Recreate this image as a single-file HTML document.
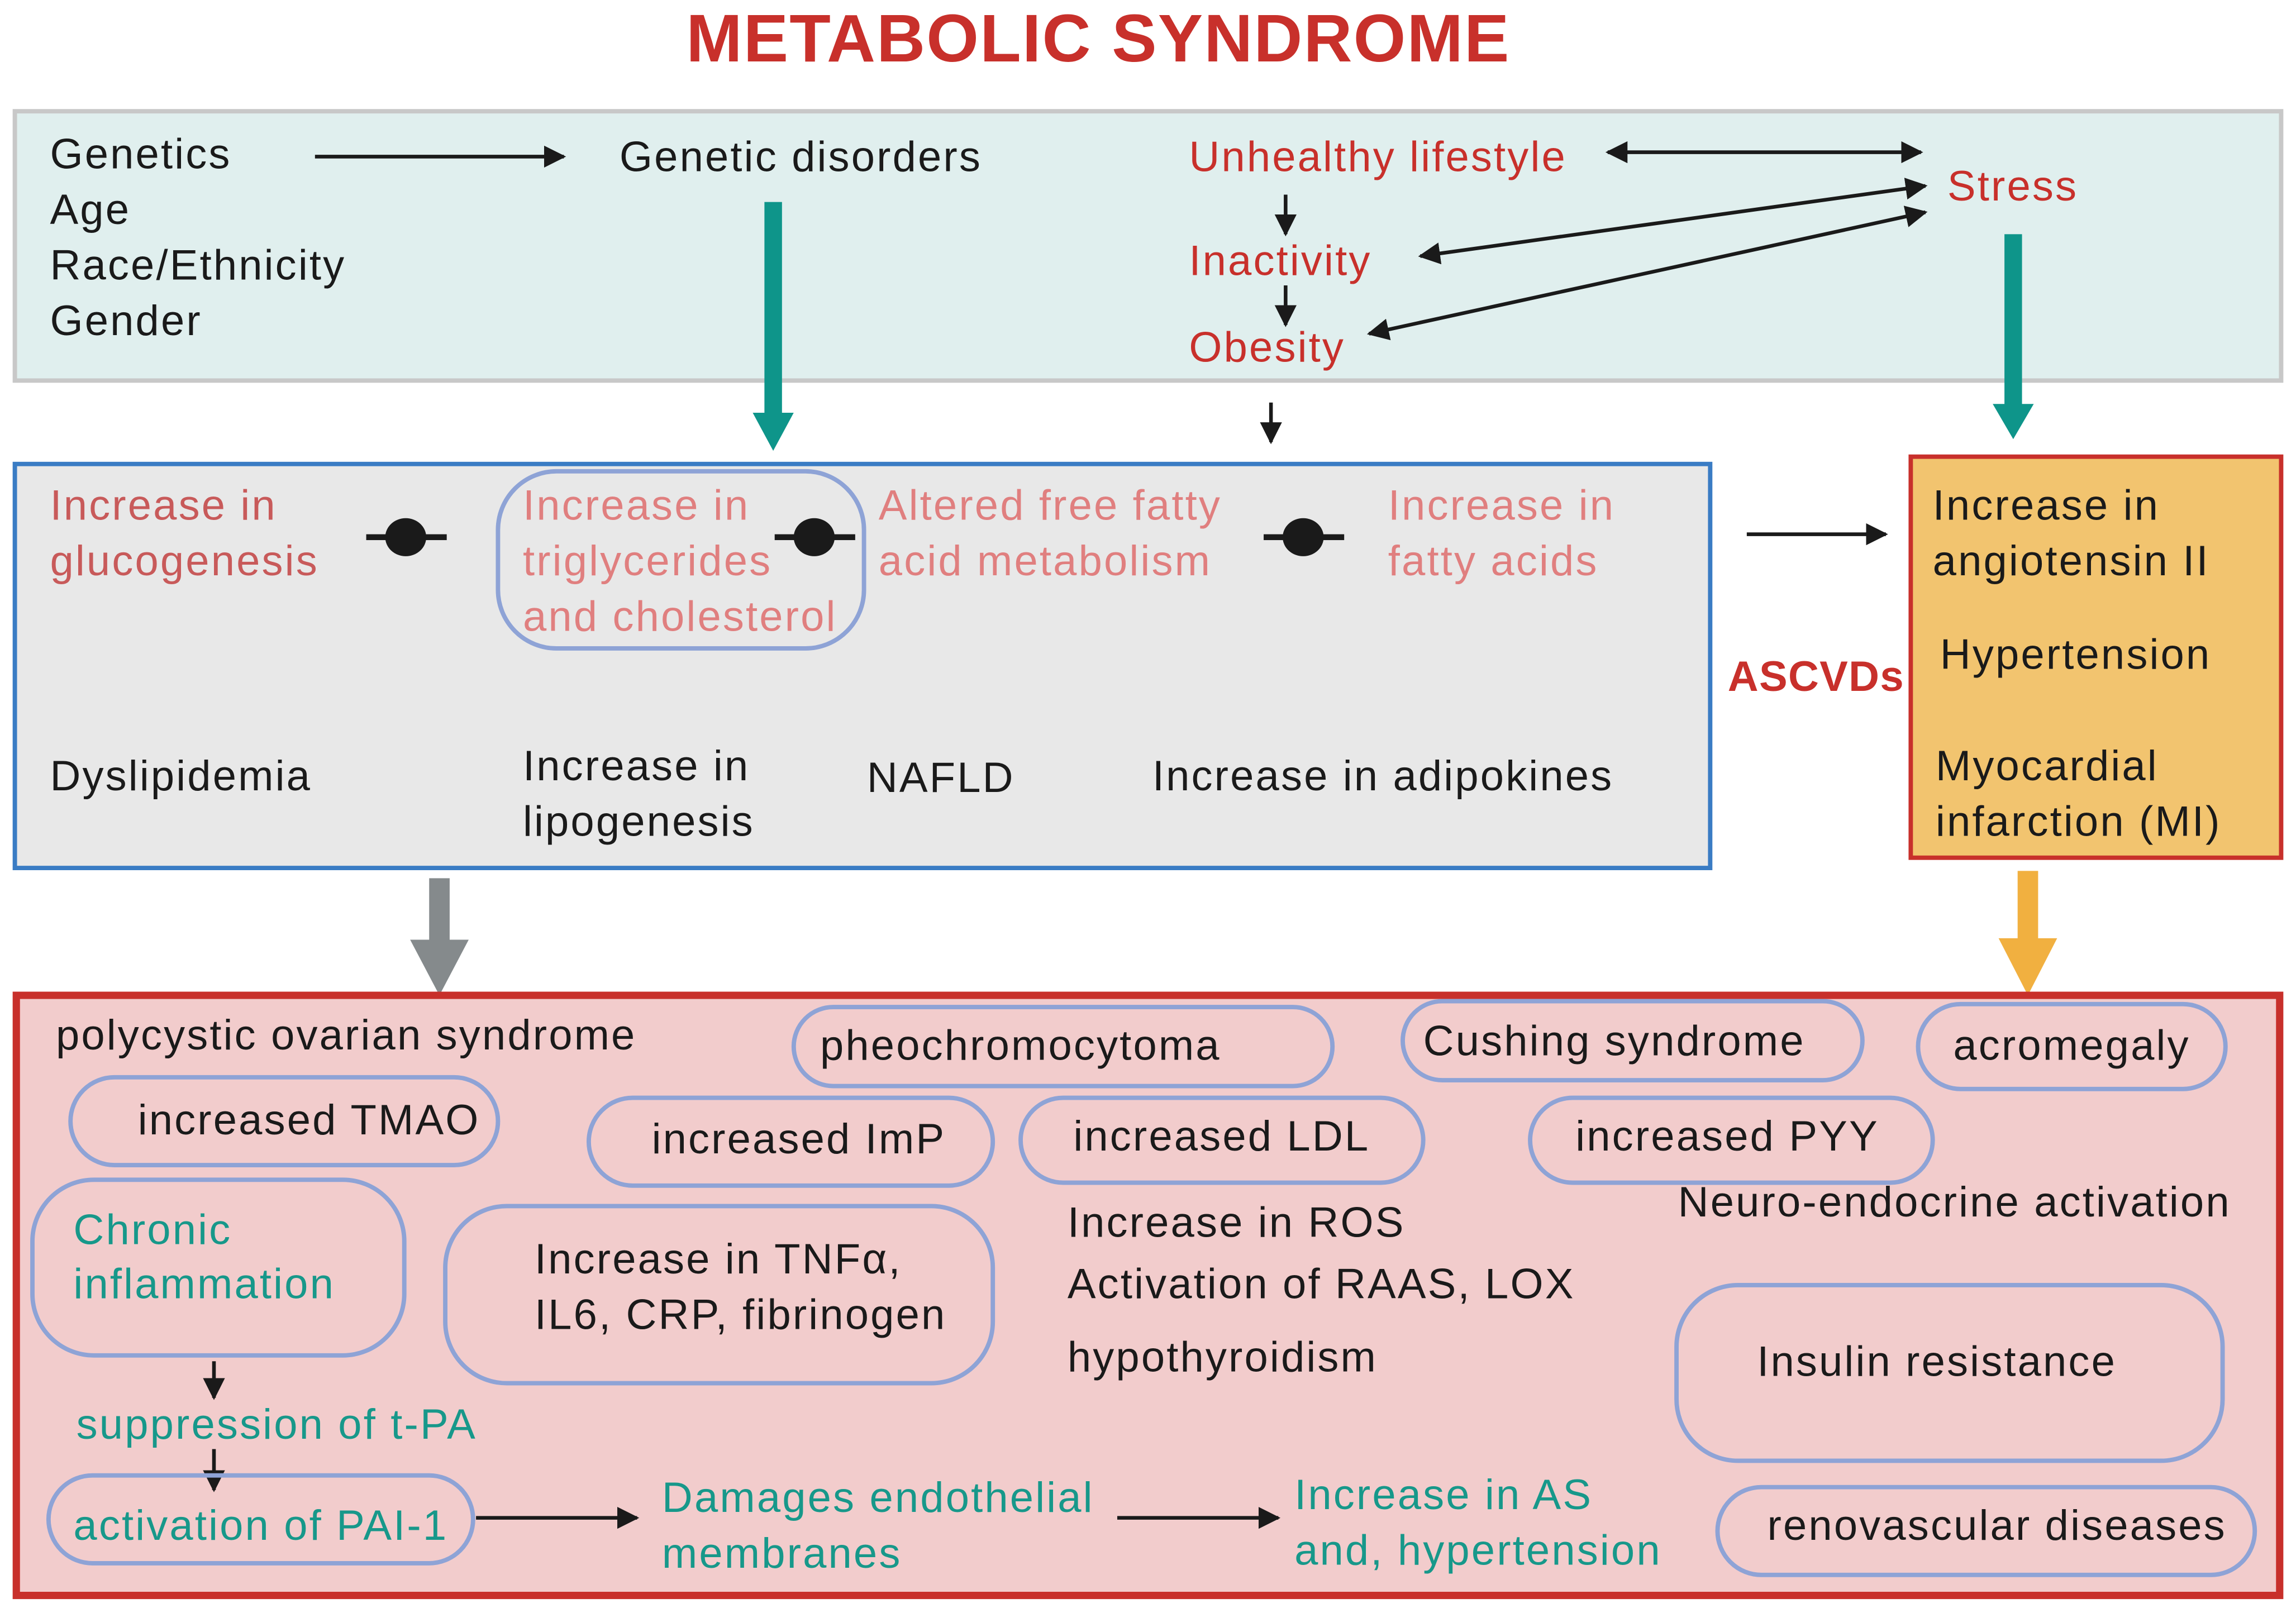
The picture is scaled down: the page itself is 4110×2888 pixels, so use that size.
<!DOCTYPE html>
<html><head><meta charset="utf-8"><style>
html,body{margin:0;padding:0;background:#fff;}
svg{display:block;}
text{font-family:"Liberation Sans",sans-serif;font-size:29px;letter-spacing:1.2px;fill:#1a1a1a;}
.r{fill:#c8302b}
.p{fill:#e07f7f}
.t{fill:#17988a}
.pill{fill:none;stroke:#8ea3d6;stroke-width:3}
</style></head><body>
<svg width="4110" height="2888" viewBox="0 0 1568 1102" xmlns="http://www.w3.org/2000/svg">
<defs>
<marker id="a" viewBox="0 0 10 10" refX="9" refY="5" markerWidth="6" markerHeight="6" orient="auto-start-reverse"><path d="M0,0 L10,5 L0,10 z" fill="#1a1a1a"/></marker>
</defs>
<rect width="1568" height="1102" fill="#fff"/>
<text x="750" y="42" text-anchor="middle" class="r" style="font-size:46px;font-weight:bold;letter-spacing:0.8px">METABOLIC SYNDROME</text>

<rect x="10" y="76" width="1548" height="184" fill="#e0efee" stroke="#c8c8c8" stroke-width="3"/>
<text x="34" y="115">Genetics</text>
<text x="34" y="153">Age</text>
<text x="34" y="191">Race/Ethnicity</text>
<text x="34" y="229">Gender</text>
<line x1="215" y1="107" x2="385" y2="107" stroke="#1a1a1a" stroke-width="2.5" marker-end="url(#a)"/>
<text x="423" y="117">Genetic disorders</text>
<text x="812" y="117" class="r">Unhealthy lifestyle</text>
<line x1="1098" y1="104" x2="1312" y2="104" stroke="#1a1a1a" stroke-width="2.5" marker-start="url(#a)" marker-end="url(#a)"/>
<text x="1330" y="137" class="r">Stress</text>
<line x1="878" y1="133" x2="878" y2="160" stroke="#1a1a1a" stroke-width="2.5" marker-end="url(#a)"/>
<text x="812" y="188" class="r">Inactivity</text>
<line x1="878" y1="195" x2="878" y2="222" stroke="#1a1a1a" stroke-width="2.5" marker-end="url(#a)"/>
<text x="812" y="247" class="r">Obesity</text>
<line x1="970" y1="175" x2="1315" y2="127" stroke="#1a1a1a" stroke-width="2.5" marker-start="url(#a)" marker-end="url(#a)"/>
<line x1="935" y1="228" x2="1315" y2="145" stroke="#1a1a1a" stroke-width="2.5" marker-start="url(#a)" marker-end="url(#a)"/>

<rect x="522" y="138" width="12" height="146" fill="#0e958a"/>
<path d="M514,282 L542,282 L528,308 z" fill="#0e958a"/>
<rect x="1369" y="160" width="12" height="118" fill="#0e958a"/>
<path d="M1361,276 L1389,276 L1375,300 z" fill="#0e958a"/>
<line x1="868" y1="275" x2="868" y2="302" stroke="#1a1a1a" stroke-width="2.5" marker-end="url(#a)"/>

<rect x="10" y="317" width="1158" height="276" fill="#e8e8e8" stroke="#3a7cc4" stroke-width="3"/>
<text x="34" y="355" style="fill:#c85a5a">Increase in</text>
<text x="34" y="393" style="fill:#c85a5a">glucogenesis</text>
<rect x="340" y="322" width="250" height="121" rx="40" class="pill"/>
<text x="357" y="355" class="p">Increase in</text>
<text x="357" y="393" class="p">triglycerides</text>
<text x="357" y="431" class="p">and cholesterol</text>
<text x="600" y="355" class="p">Altered free fatty</text>
<text x="600" y="393" class="p">acid metabolism</text>
<text x="948" y="355" class="p">Increase in</text>
<text x="948" y="393" class="p">fatty acids</text>
<g fill="#1a1a1a">
<rect x="250" y="365" width="55" height="4"/><ellipse cx="277" cy="367" rx="14" ry="13"/>
<rect x="529" y="365" width="55" height="4"/><ellipse cx="556" cy="367" rx="14" ry="13"/>
<rect x="863" y="365" width="55" height="4"/><ellipse cx="890" cy="367" rx="14" ry="13"/>
</g>
<text x="34" y="540">Dyslipidemia</text>
<text x="357" y="533">Increase in</text>
<text x="357" y="571">lipogenesis</text>
<text x="592" y="541">NAFLD</text>
<text x="787" y="540">Increase in adipokines</text>

<line x1="1193" y1="365" x2="1288" y2="365" stroke="#1a1a1a" stroke-width="2.5" marker-end="url(#a)"/>
<text x="1180" y="472" class="r" style="font-weight:bold;letter-spacing:0.5px">ASCVDs</text>

<rect x="1305" y="312" width="253" height="274" fill="#f2c46f" stroke="#c8302b" stroke-width="3"/>
<text x="1320" y="355">Increase in</text>
<text x="1320" y="393">angiotensin II</text>
<text x="1325" y="457">Hypertension</text>
<text x="1322" y="533">Myocardial</text>
<text x="1322" y="571">infarction (MI)</text>

<rect x="293" y="600" width="14" height="44" fill="#858a8c"/>
<path d="M280,642 L320,642 L300,680 z" fill="#858a8c"/>
<rect x="1378" y="595" width="14" height="48" fill="#f1b040"/>
<path d="M1365,641 L1405,641 L1385,680 z" fill="#f1b040"/>

<rect x="11" y="680" width="1546" height="410" fill="#f2cccc" stroke="#c8302b" stroke-width="5"/>
<text x="38" y="717">polycystic ovarian syndrome</text>
<rect x="542" y="688" width="368" height="54" rx="27" class="pill"/>
<text x="560" y="724">pheochromocytoma</text>
<rect x="958" y="684" width="314" height="54" rx="27" class="pill"/>
<text x="972" y="721">Cushing syndrome</text>
<rect x="1310" y="686" width="210" height="58" rx="29" class="pill"/>
<text x="1334" y="724">acromegaly</text>
<rect x="48" y="736" width="292" height="60" rx="30" class="pill"/>
<text x="94" y="775">increased TMAO</text>
<rect x="402" y="750" width="276" height="60" rx="30" class="pill"/>
<text x="445" y="788">increased ImP</text>
<rect x="697" y="750" width="275" height="58" rx="29" class="pill"/>
<text x="733" y="786">increased LDL</text>
<rect x="1045" y="750" width="275" height="58" rx="29" class="pill"/>
<text x="1076" y="786">increased PYY</text>
<text x="1146" y="831">Neuro-endocrine activation</text>
<rect x="22" y="806" width="254" height="120" rx="42" class="pill"/>
<text x="50" y="850" class="t">Chronic</text>
<text x="50" y="887" class="t">inflammation</text>
<rect x="304" y="824" width="374" height="121" rx="42" class="pill"/>
<text x="365" y="870">Increase in TNFα,</text>
<text x="365" y="908">IL6, CRP, fibrinogen</text>
<text x="729" y="845">Increase in ROS</text>
<text x="729" y="887">Activation of RAAS, LOX</text>
<text x="729" y="937">hypothyroidism</text>
<rect x="1145" y="878" width="373" height="120" rx="42" class="pill"/>
<text x="1200" y="940">Insulin resistance</text>
<line x1="146" y1="930" x2="146" y2="955" stroke="#1a1a1a" stroke-width="2.5" marker-end="url(#a)"/>
<text x="52" y="983" class="t">suppression of t-PA</text>
<line x1="146" y1="990" x2="146" y2="1018" stroke="#1a1a1a" stroke-width="2.5" marker-end="url(#a)"/>
<rect x="33" y="1008" width="290" height="60" rx="30" class="pill"/>
<text x="50" y="1052" class="t">activation of PAI-1</text>
<line x1="325" y1="1037" x2="435" y2="1037" stroke="#1a1a1a" stroke-width="2.5" marker-end="url(#a)"/>
<text x="452" y="1033" class="t">Damages endothelial</text>
<text x="452" y="1071" class="t">membranes</text>
<line x1="763" y1="1037" x2="873" y2="1037" stroke="#1a1a1a" stroke-width="2.5" marker-end="url(#a)"/>
<text x="884" y="1031" class="t">Increase in AS</text>
<text x="884" y="1069" class="t">and, hypertension</text>
<rect x="1173" y="1016" width="367" height="60" rx="30" class="pill"/>
<text x="1207" y="1052">renovascular diseases</text>
</svg>
</body></html>
